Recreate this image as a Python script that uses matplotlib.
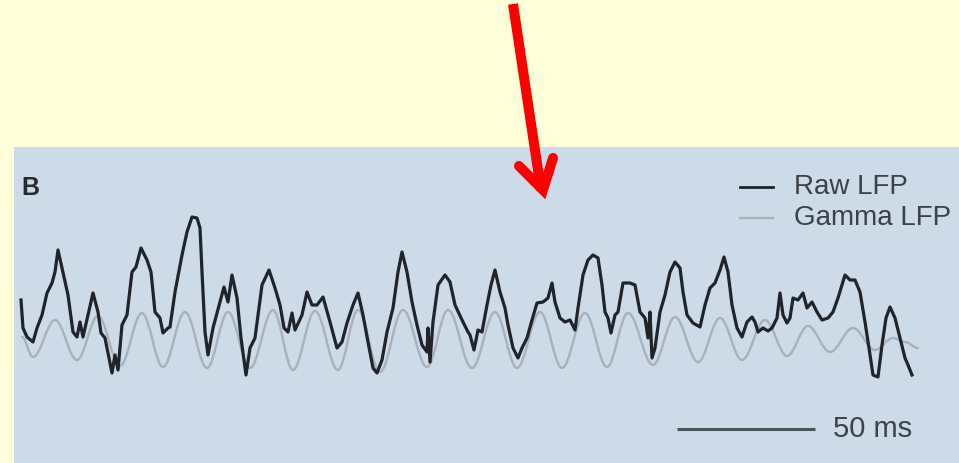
import matplotlib
matplotlib.use("Agg")
import matplotlib.pyplot as plt
from matplotlib.path import Path
from matplotlib.patches import PathPatch

plt.rcParams['font.family'] = ['Liberation Sans', 'DejaVu Sans']

# raw LFP trace (sample index, amplitude in arbitrary units)
raw_t = [0, 2, 6, 12, 16, 21, 26, 31, 34, 37, 41, 47, 52, 56, 59, 62, 67, 72, 77, 80,
         84, 87, 91, 94, 97, 101, 106, 111, 115, 120, 126, 130, 134, 139, 142, 147,
         149, 154, 161, 166, 171, 176, 179, 181, 184, 187, 192, 199, 203, 207, 211,
         216, 220, 225, 229, 234, 241, 248, 254, 259, 263, 267, 271, 274, 281, 286,
         291, 296, 302, 309, 316, 321, 326, 332, 337, 342, 347, 352, 356, 361, 366,
         372, 377, 381, 386, 391, 396, 401, 406, 407, 409, 412, 417, 424, 429, 434,
         442, 447, 449, 453, 457, 461, 466, 470, 474, 479, 484, 487, 492, 497, 501,
         506, 511, 516, 522, 527, 531, 534, 539, 544, 549, 554, 557, 562, 567, 572,
         577, 581, 584, 587, 590, 594, 597, 602, 609, 614, 619, 624, 627, 629, 631,
         634, 639, 644, 649, 654, 659, 662, 666, 672, 679, 684, 689, 694, 699, 703,
         707, 711, 716, 721, 726, 731, 734, 737, 742, 747, 751, 756, 759, 762, 766,
         769, 772, 777, 782, 786, 791, 796, 801, 807, 812, 817, 821, 824, 829, 834,
         839, 844, 848, 852, 857, 861, 865, 869, 874, 879, 884, 887, 891]
raw_v = [40, 12, 3, -2, 12, 25, 47, 57, 68, 90, 72, 45, 8, 3, 18, 3, 25, 47, 28, 7,
         2, -13, -33, -15, -30, 15, 25, 68, 73, 92, 80, 68, 28, 22, 7, 12,
         13, 48, 85, 108, 123, 122, 112, 68, 8, -15, 12, 38, 53, 38, 65,
         42, 2, -35, -8, 2, 55, 70, 52, 35, 12, 8, 27, 10, 25, 48,
         35, 35, 43, 18, -8, -2, 17, 35, 47, 25, -2, -28, -33, -20, 8,
         32, 68, 88, 68, 38, 15, -5, -12, 12, -22, 18, 55, 65, 58, 35,
         18, 8, 5, -10, 10, 8, 35, 55, 70, 48, 32, 15, -8, -18, -8,
         2, 20, 37, 38, 42, 57, 38, 22, 18, 20, 10, 32, 65, 80, 85,
         82, 55, 28, 22, 7, 25, 28, 57, 57, 55, 28, 22, 2, 28, -18,
         -8, 28, 45, 68, 78, 72, 48, 25, 17, 13, 35, 52, 57, 70, 83,
         68, 35, 12, 3, 18, 23, 18, 8, 12, 9, 12, 22, 47, 25, 17,
         22, 42, 40, 47, 32, 38, 28, 20, 22, 28, 42, 55, 65, 60, 60,
         48, 18, -8, -35, -37, -5, 22, 33, 22, 2, -18, -25, -35]

# gamma-band LFP: turning points of the filtered trace
gamma_t = [1, 12, 34, 56, 77, 99, 121, 142, 164, 186, 207, 229, 252, 272, 294, 317,
           337, 359, 382, 406, 427, 451, 474, 496, 519, 541, 564, 586, 607, 632,
           654, 677, 699, 721, 744, 766, 787, 809, 832, 854, 872, 884, 897]
gamma_v = [3, -17, 20, -20, 24, -26, 27, -27, 28, -28, 28, -28, 30, -30, 29, -30,
           30, -32, 30, -27, 30, -28, 28, -28, 28, -28, 27, -27, 27, -25,
           23, -22, 22, -20, 20, -16, 14, -12, 12, -10, 2, -2, -8]

samples_per_ms = 2.76
scale_ms = 50
scale_start = 656
scale_level = -89

yellow = '#ffffda'
panel = '#cddae8'
raw_col = '#1f242b'
gamma_col = '#a9b1ba'
text_col = '#3b4148'

fig = plt.figure(figsize=(9.59, 4.63), dpi=100)
fig.patch.set_facecolor(yellow)

ax = fig.add_axes([14 / 959, 0, 945 / 959, 316 / 463])
ax.set_facecolor(panel)
ax.set_xlim(-7, 938)
ax.set_ylim(-123, 193)
ax.set_xticks([])
ax.set_yticks([])
for s in ax.spines.values():
    s.set_visible(False)

# smooth gamma curve through its turning points (flat tangents at each extremum)
verts = [(gamma_t[0], gamma_v[0])]
codes = [Path.MOVETO]
for i in range(1, len(gamma_t)):
    t0, v0 = gamma_t[i - 1], gamma_v[i - 1]
    t1, v1 = gamma_t[i], gamma_v[i]
    d = t1 - t0
    verts += [(t0 + 0.36 * d, v0), (t1 - 0.36 * d, v1), (t1, v1)]
    codes += [Path.CURVE4] * 3
ax.add_patch(PathPatch(Path(verts, codes), fill=False, edgecolor=gamma_col,
                       lw=1.7, capstyle='round', joinstyle='round'))

ax.plot(raw_t, raw_v, color=raw_col, lw=2.3, solid_joinstyle='round')

# 50 ms scale bar
ax.plot([scale_start, scale_start + scale_ms * samples_per_ms],
        [scale_level, scale_level], color='#4b535b', lw=2.2, solid_capstyle='butt')
ax.text(scale_start + scale_ms * samples_per_ms + 18, scale_level, f'{scale_ms} ms',
        fontsize=21, color=text_col, va='center', ha='left')

# overlay in pixel coordinates for labels and the arrow
ov = fig.add_axes([0, 0, 1, 1], zorder=5)
ov.set_xlim(0, 959)
ov.set_ylim(463, 0)
ov.axis('off')
ov.patch.set_alpha(0)

ov.text(21, 195, 'B', fontsize=18, fontweight='bold', color='#262b31',
        va='baseline', ha='left')

ov.plot([740, 773], [187, 187], color=raw_col, lw=2.0)
ov.plot([740, 773], [218, 218], color=gamma_col, lw=1.7)
ov.text(794, 194, 'Raw LFP', fontsize=20, color=text_col, va='baseline')
ov.text(794, 225, 'Gamma LFP', fontsize=20, color=text_col, va='baseline')

# red arrow
ov.plot([513, 541], [4, 190], color='#ff0000', lw=7.2, solid_capstyle='butt')
ov.plot([519, 543, 553], [166, 190, 158], color='#ff0000', lw=7.2,
        solid_capstyle='round', solid_joinstyle='miter')

fig.savefig('out.png', dpi=100, facecolor=yellow)
